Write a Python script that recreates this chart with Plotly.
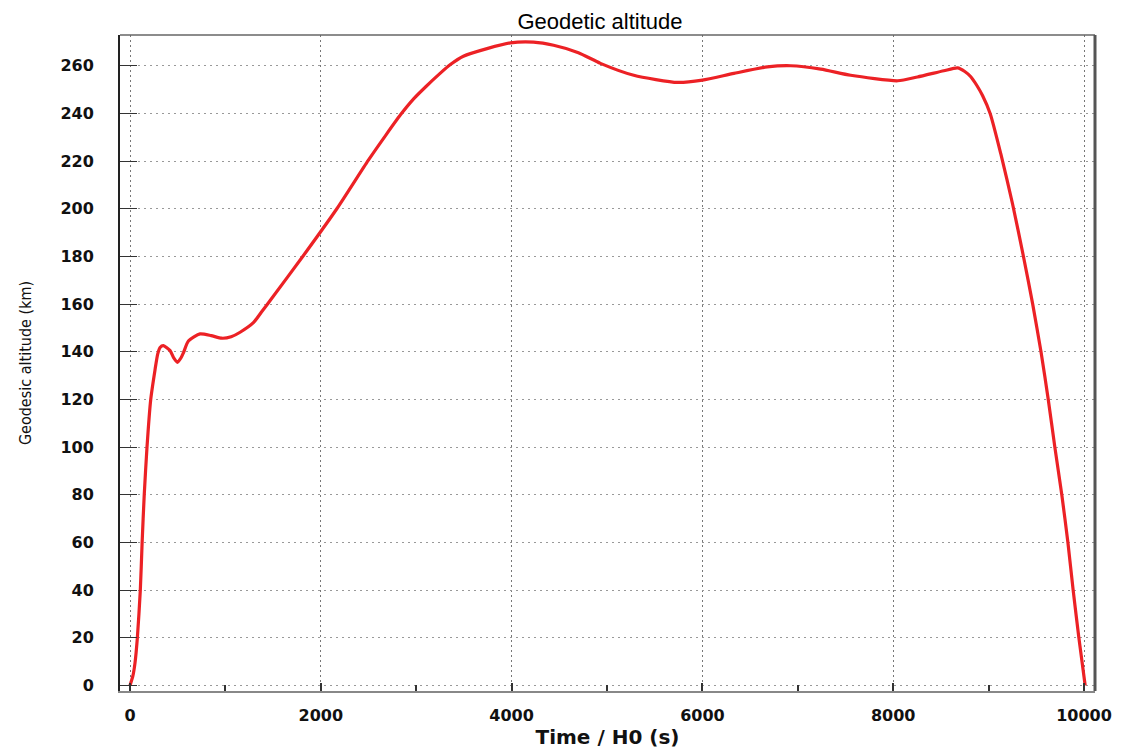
import plotly.graph_objects as go

# Time / H0 (s)
time_s = [0, 30, 52, 77, 108, 127, 149, 178, 217, 262, 290, 315, 350, 420, 460,
          497, 535, 560, 612, 734, 850, 962, 1060, 1154, 1293, 1380, 1469, 1820,
          2168, 2497, 2680, 2833, 2975, 3100, 3250, 3358, 3494, 3742, 3987, 4230,
          4440, 4700, 4931, 5280, 5740, 6000, 6330, 6680, 6925, 7240, 7554, 8047,
          8254, 8530, 8674, 8750, 8813, 8880, 8936, 9016, 9128, 9251, 9365, 9462,
          9549, 9625, 9694, 9767, 9831, 9886, 9946, 10012]
# Geodetic altitude (km)
altitude_km = [0, 4, 9.4, 20, 40, 60, 80, 100, 120, 132.4, 139, 141.8, 142.6,
               140.5, 137.3, 135.6, 137.5, 139.6, 144.5, 147.5, 146.8, 145.7,
               146.3, 148.2, 152.2, 156.8, 161.5, 180.5, 200, 220.3, 230.8, 239.3,
               246.2, 251.2, 256.8, 260.5, 264, 267.2, 269.6, 269.9, 268.6, 265.5,
               261, 256, 253, 254, 256.8, 259.5, 260, 258.6, 256, 253.7, 255.3,
               257.9, 259.1, 257.6, 255.4, 251.5, 247.5, 240, 223, 202, 180, 160,
               140, 120, 100, 80, 60, 40, 20, 0]

x_ticks = [0, 2000, 4000, 6000, 8000, 10000]
y_ticks = list(range(0, 261, 20))

title_text = "Geodetic altitude"
x_title = "Time / H0 (s)"
y_title = "Geodesic altitude (km)"

fig = go.Figure()
fig.add_trace(go.Scatter(
    x=time_s, y=altitude_km, mode="lines",
    line=dict(color="#ec2125", width=3.2, shape="spline", smoothing=0.6),
    showlegend=False, hoverinfo="x+y"))

tickfont = dict(family="DejaVu Sans", size=16, color="#111", weight="bold")

W, H = 1118, 741
fig.update_layout(
    width=W, height=H,
    margin=dict(l=112, r=31, t=27, b=58),
    paper_bgcolor="white", plot_bgcolor="white",
    title=dict(text=title_text, x=592 / W, xanchor="center", y=1 - 13 / H,
               yanchor="middle", pad=dict(t=0, b=0),
               font=dict(family="Liberation Sans, Arial", size=22, color="#000")),
    xaxis=dict(
        range=[-105, 10115], tickvals=x_ticks, ticktext=[str(v) for v in x_ticks],
        showgrid=True, gridcolor="#777", griddash="2px,3px", gridwidth=1,
        ticks="inside", ticklen=8, tickcolor="#333", tickwidth=2,
        minor=dict(dtick=1000, tick0=0, ticks="inside", ticklen=6, tickcolor="#333",
                   showgrid=False),
        showline=True, linecolor="#888", linewidth=2,
        tickfont=tickfont, ticklabelstandoff=9,
        zeroline=False, automargin=False,
        title=dict(text=x_title, standoff=6,
                   font=dict(family="DejaVu Sans", size=20, color="#111", weight="bold")),
    ),
    yaxis=dict(
        range=[-2.3, 272.9], tickvals=y_ticks, ticktext=[str(v) for v in y_ticks],
        showgrid=True, gridcolor="#999", griddash="2px,4px", gridwidth=1,
        ticks="inside", ticklen=17, tickcolor="#333", tickwidth=1,
        showline=True, linecolor="#222", linewidth=2,
        tickfont=tickfont, ticklabelstandoff=21,
        zeroline=False, automargin=False,
        title=dict(text=y_title, standoff=25,
                   font=dict(family="Liberation Sans Narrow, DejaVu Sans Condensed, Arial Narrow",
                             size=16, color="#111")),
    ),
    shapes=[
        dict(type="line", xref="paper", yref="paper", x0=0, x1=1, y0=1, y1=1,
             line=dict(color="#666", width=1.5)),
        dict(type="line", xref="paper", yref="paper", x0=1, x1=1, y0=0, y1=1,
             line=dict(color="#555", width=3)),
    ],
)

fig.write_html("out.html")
